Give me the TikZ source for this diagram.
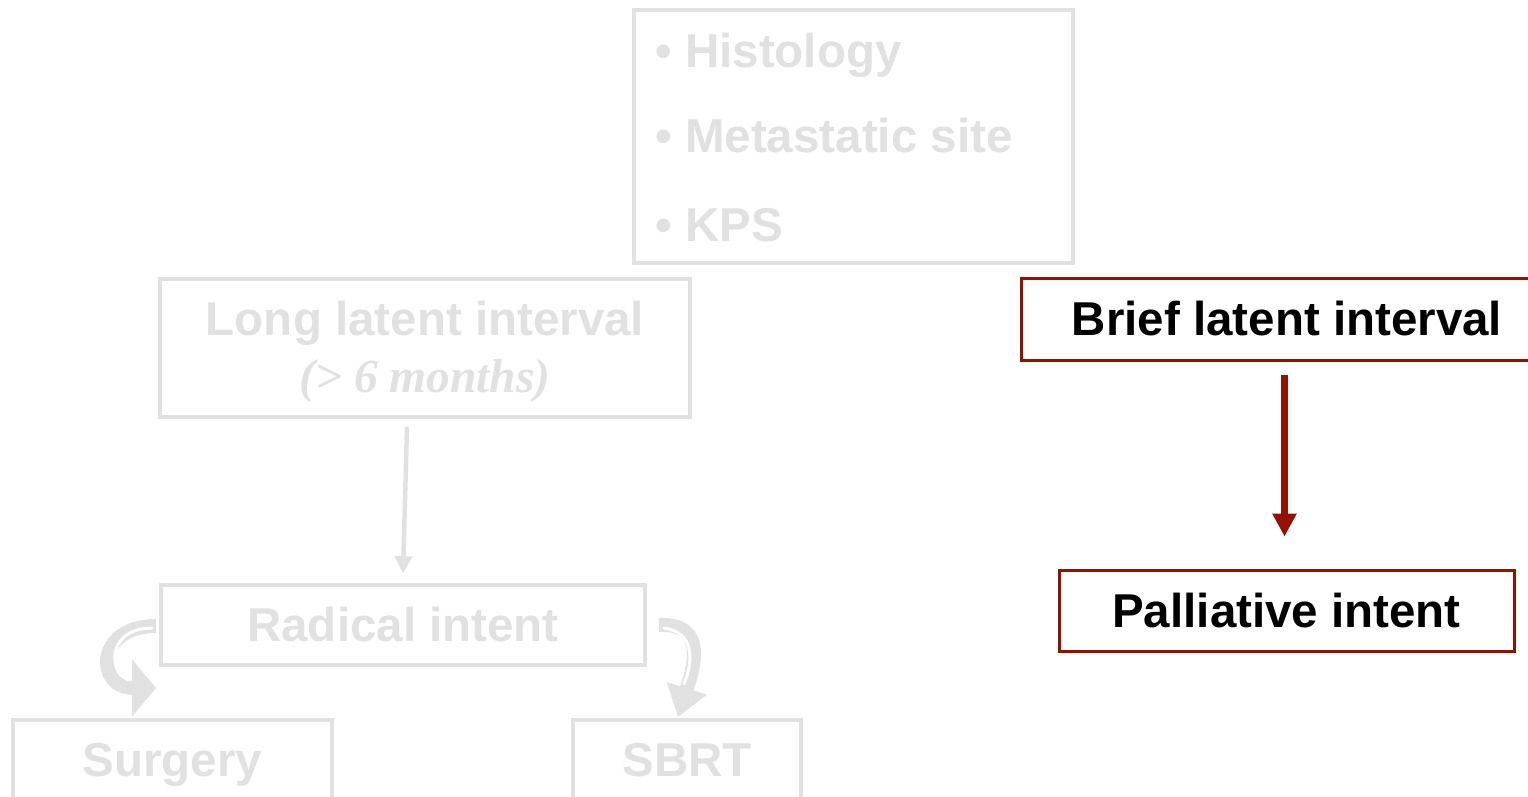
\documentclass[tikz,border=0pt]{standalone}
\usepackage{fontspec}
\setmainfont{Liberation Sans}
\newfontfamily\serifit{Liberation Serif}
\usetikzlibrary{arrows.meta}
\definecolor{lgray}{HTML}{E1E1E1}
\definecolor{dred}{HTML}{941100}
\tikzset{
  big/.style={font=\fontsize{47.5}{55}\selectfont\bfseries},
  graybox/.style={draw=lgray, line width=3.5pt, inner sep=0pt, text=lgray, big},
  redbox/.style={draw=dred, line width=3pt, inner sep=0pt, text=black, big},
  item/.style={anchor=base west, inner sep=0pt, text=lgray, big},
  grayarrow/.style={draw=lgray, line width=4.5pt, -{Triangle[width=17pt,length=17pt]}},
  redarrow/.style={draw=dred, line width=7pt, -{Triangle[width=23pt,length=23pt]}},
  curvedarrow/.style={draw=lgray, line width=14pt},
  foldline/.style={draw=white, line width=3pt, line cap=round}
}
\begin{document}
\begin{tikzpicture}[x=1pt,y=-1pt]
\clip (0,0) rectangle (1528,797);
\fill[white] (0,0) rectangle (1528,797);

% top factor box
\node[graybox, minimum width=439pt, minimum height=253pt] (factors) at (853.5,136.5) {};
\node[item] (histo) at (655,68) {\makebox[30pt][l]{•}Histology};
\node[item] (meta) at (655,153) {\makebox[30pt][l]{•}Metastatic site};
\node[item] (kps) at (655,241) {\makebox[30pt][l]{•}KPS};

% left branch
\node[graybox, minimum width=530pt, minimum height=138pt, align=center] (long) at (425,348)
  {\rule{0pt}{43pt}Long latent interval\\[2pt]{\serifit\itshape (> 6 months)}};
\node[graybox, minimum width=484pt, minimum height=80pt] (radical) at (403,625) {Radical intent};
\node[graybox, minimum width=319pt, minimum height=80pt, text depth=0pt] (surgery) at (172.5,760) {Surgery};
\node[graybox, minimum width=228pt, minimum height=80pt, text depth=0pt] (sbrt) at (687,760) {SBRT};

\draw[grayarrow] ([xshift=-18pt,yshift=-8pt]long.south) -- ([yshift=10pt]radical.north);

% curved arrows
\coordinate (ls) at (156,626);
\coordinate (le) at (156,688);
\draw[curvedarrow, -{Triangle[width=56pt,length=24pt]}] (ls) .. controls (95,626) and (95,688) .. (le);
\draw[foldline] (152,628) .. controls (110,628) and (106,668) .. (128,680);

\coordinate (rs) at (659,625);
\coordinate (re) at (678,717);
\draw[curvedarrow, -{Triangle[width=40pt,length=30pt]}] (rs) .. controls (710,623) and (692,672) .. (re);
\draw[foldline] (664,628) .. controls (694,632) and (694,660) .. (684,684);

% right branch
\node[redbox, minimum width=520pt, minimum height=82pt] (brief) at (1281,319) {\hspace*{12pt}Brief latent interval};
\node[redbox, minimum width=455pt, minimum height=81pt] (palli) at (1286.5,610.5) {Palliative intent};
\draw[redarrow] ([xshift=3.5pt,yshift=-13pt]brief.south) -- ([xshift=-2pt,yshift=32pt]palli.north);
\end{tikzpicture}
\end{document}
